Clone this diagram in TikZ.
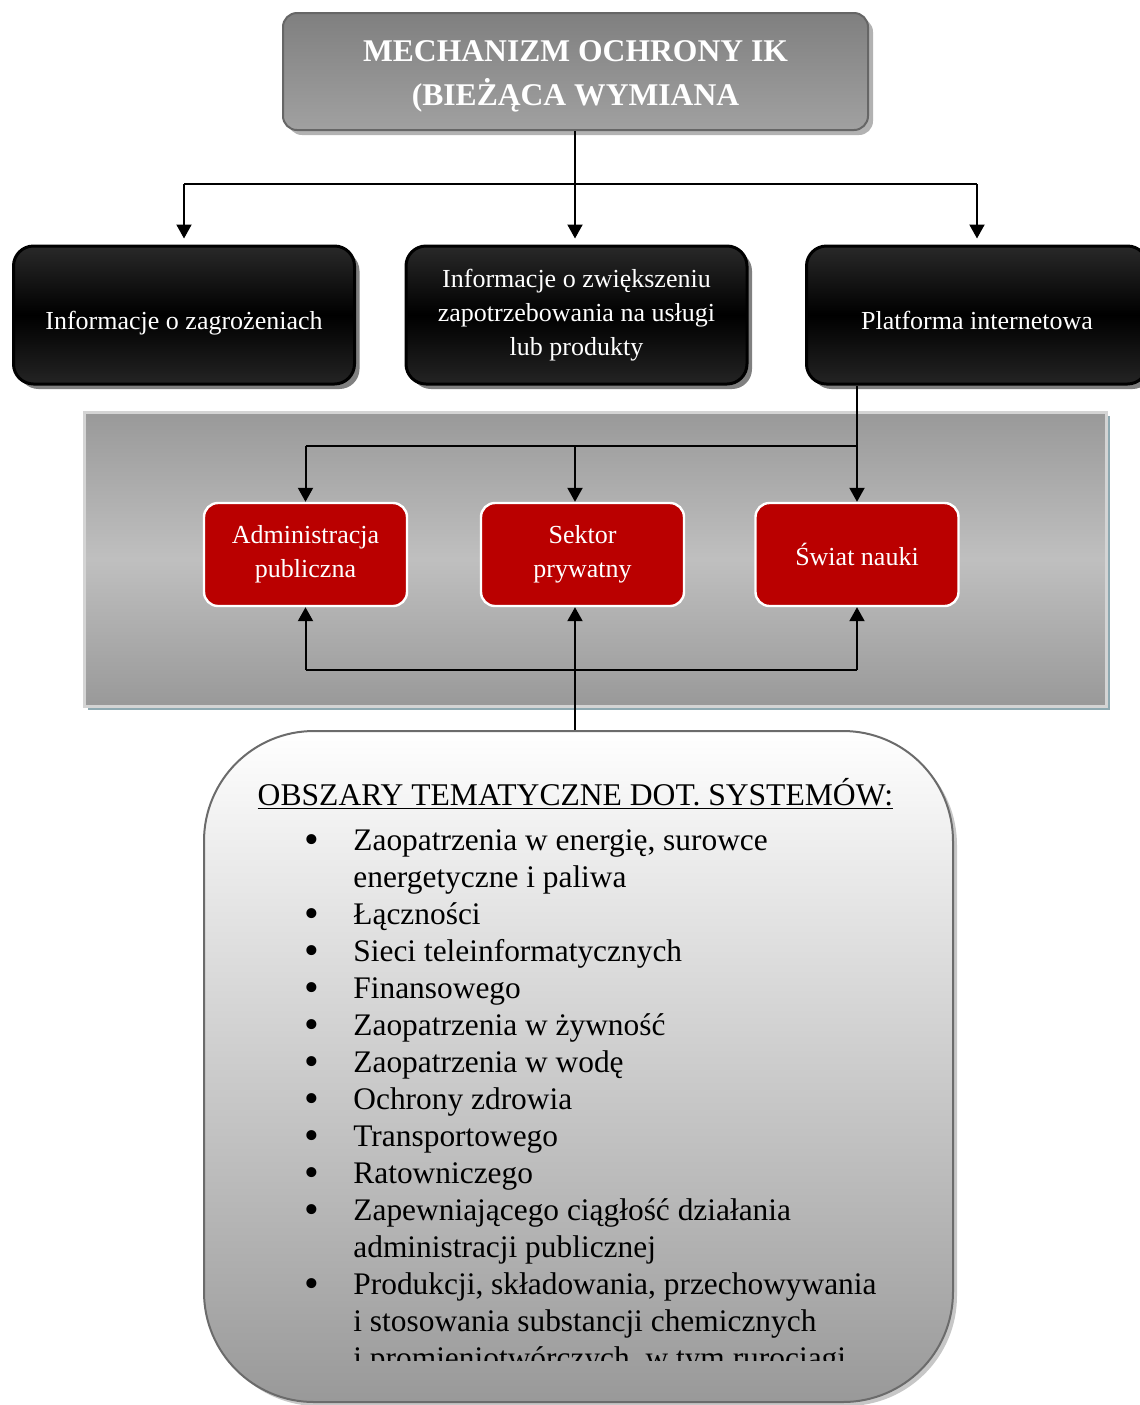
\documentclass[tikz,border=0pt]{standalone}
\usepackage{fontspec}
\setmainfont{Liberation Serif}
\usetikzlibrary{arrows.meta,shadows,calc}
\definecolor{redbox}{HTML}{BA0000}
\definecolor{panelshadow}{HTML}{8EA9B1}
\tikzset{
  line/.style={line width=1pt, draw=black},
  arr/.style={line, -{Triangle[length=7pt,width=7.5pt]}},
  topbox/.style={rounded corners=7pt, minimum width=292.5pt, minimum height=58.5pt,
    top color=black!50, bottom color=black!37, draw=black!60, line width=1pt,
    general shadow={fill=black!30, shadow xshift=2.5pt, shadow yshift=-2.5pt},
    text=white, align=center, font=\fontsize{15.8}{22}\selectfont\bfseries},
  blackbox/.style={rounded corners=10pt, minimum width=170.5pt, minimum height=69pt,
    top color=black!84, bottom color=black!86, middle color=black, draw=black, line width=1.5pt,
    general shadow={fill=black!50, shadow xshift=2.5pt, shadow yshift=-2.5pt},
    text=white, align=center, font=\fontsize{13}{17}\selectfont},
  oneline/.style={text height=16pt, text depth=2pt},
  panel/.style={minimum width=511pt, minimum height=147pt,
    top color=black!40, bottom color=black!40, middle color=black!25,
    draw=black!17, line width=1.5pt,
    general shadow={fill=panelshadow, shadow xshift=2pt, shadow yshift=-2pt}},
  redbox/.style={rounded corners=7pt, minimum width=101.5pt, minimum height=51.5pt,
    fill=redbox, draw=white, line width=1.2pt, text=white, align=center,
    font=\fontsize{13}{17}\selectfont},
  obsbox/.style={rounded corners=55pt, minimum width=374.5pt, minimum height=335.5pt,
    top color=white, bottom color=black!40, draw=black!58, line width=1pt,
    general shadow={fill=black!22, shadow xshift=2pt, shadow yshift=-2pt}},
  listtext/.style={anchor=base west, inner sep=0pt, font=\fontsize{15.7}{18.5}\selectfont},
  bul/.style={anchor=base, inner sep=0pt, text height=8pt, text depth=0pt,
    font=\fontsize{21}{21}\selectfont},
}
\begin{document}
\begin{tikzpicture}[x=0.5pt,y=-0.5pt]
\useasboundingbox (0,0) rectangle (1140,1405);

% top box
\node[topbox] (top) at (575.5,71.5) {\rule{0pt}{15pt}MECHANIZM OCHRONY IK\\(BIEŻĄCA WYMIANA};

% black boxes
\node[blackbox, oneline] (b1) at (184,315) {Informacje o zagrożeniach};
\node[blackbox] (b2) at (576.5,315) {Informacje o zwiększeniu\\zapotrzebowania na usługi\\lub produkty};
\node[blackbox, oneline] (b3) at (977,315) {Platforma internetowa};

% panel
\node[panel] (panel) at (595,559) {};

% red boxes
\node[redbox] (adm) at (305.5,554.5) {Administracja\\publiczna};
\node[redbox] (sek) at (582.5,554.5) {Sektor\\prywatny};
\node[redbox] (sw) at (857,554.5) {Świat nauki};

% bottom box
\node[obsbox] (obs) at (578.5,1066.5) {};

% connectors top
\coordinate (trunk) at (575,0);
\coordinate (h1) at (575,184);
\draw[arr, shorten >=3pt] (top.south -| trunk) -- (trunk |- b2.north);
\draw[line] (h1 -| b1.north) -- (h1 -| b3.north);
\draw[arr, shorten >=3pt] (h1 -| b1.north) -- (b1.north);
\draw[arr, shorten >=3pt] (h1 -| b3.north) -- (b3.north);

% connectors panel
\coordinate (h2) at (575,446);
\draw[arr] (b3.south -| sw.north) -- (sw.north);
\draw[line] (h2 -| adm.north) -- (h2 -| sw.north);
\draw[arr] (h2 -| adm.north) -- (adm.north);
\draw[arr] (h2) -- (h2 |- sek.north);
\coordinate (h3) at (575,670);
\draw[arr] (obs.north -| trunk) -- (trunk |- sek.south);
\draw[line] (h3 -| adm.south) -- (h3 -| sw.south);
\draw[arr] (h3 -| adm.south) -- (adm.south);
\draw[arr] (h3 -| sw.south) -- (sw.south);

% bottom text
\begin{scope}
\clip (204,731) rectangle (953,1360);
\node[anchor=base, inner sep=0pt, font=\fontsize{15.8}{18.5}\selectfont] (ttl) at (575.5,805) {\underline{OBSZARY TEMATYCZNE DOT. SYSTEMÓW:}};
\node[bul] (u1) at (312,853) {•};
\node[listtext] (l1) at (353,850) {Zaopatrzenia w energię, surowce};
\node[listtext] (l2) at (353,887) {energetyczne i paliwa};
\node[bul] (u3) at (312,927) {•};
\node[listtext] (l3) at (353,924) {Łączności};
\node[bul] (u4) at (312,964) {•};
\node[listtext] (l4) at (353,961) {Sieci teleinformatycznych};
\node[bul] (u5) at (312,1001) {•};
\node[listtext] (l5) at (353,998) {Finansowego};
\node[bul] (u6) at (312,1038) {•};
\node[listtext] (l6) at (353,1035) {Zaopatrzenia w żywność};
\node[bul] (u7) at (312,1075) {•};
\node[listtext] (l7) at (353,1072) {Zaopatrzenia w wodę};
\node[bul] (u8) at (312,1112) {•};
\node[listtext] (l8) at (353,1109) {Ochrony zdrowia};
\node[bul] (u9) at (312,1149) {•};
\node[listtext] (l9) at (353,1146) {Transportowego};
\node[bul] (u10) at (312,1186) {•};
\node[listtext] (l10) at (353,1183) {Ratowniczego};
\node[bul] (u11) at (312,1223) {•};
\node[listtext] (l11) at (353,1220) {Zapewniającego ciągłość działania};
\node[listtext] (l12) at (353,1257) {administracji publicznej};
\node[bul] (u13) at (312,1297) {•};
\node[listtext] (l13) at (353,1294) {Produkcji, składowania, przechowywania};
\node[listtext] (l14) at (353,1331) {i stosowania substancji chemicznych};
\node[listtext] (l15) at (353,1368) {i promieniotwórczych, w tym rurociągi};
\end{scope}
\end{tikzpicture}
\end{document}
